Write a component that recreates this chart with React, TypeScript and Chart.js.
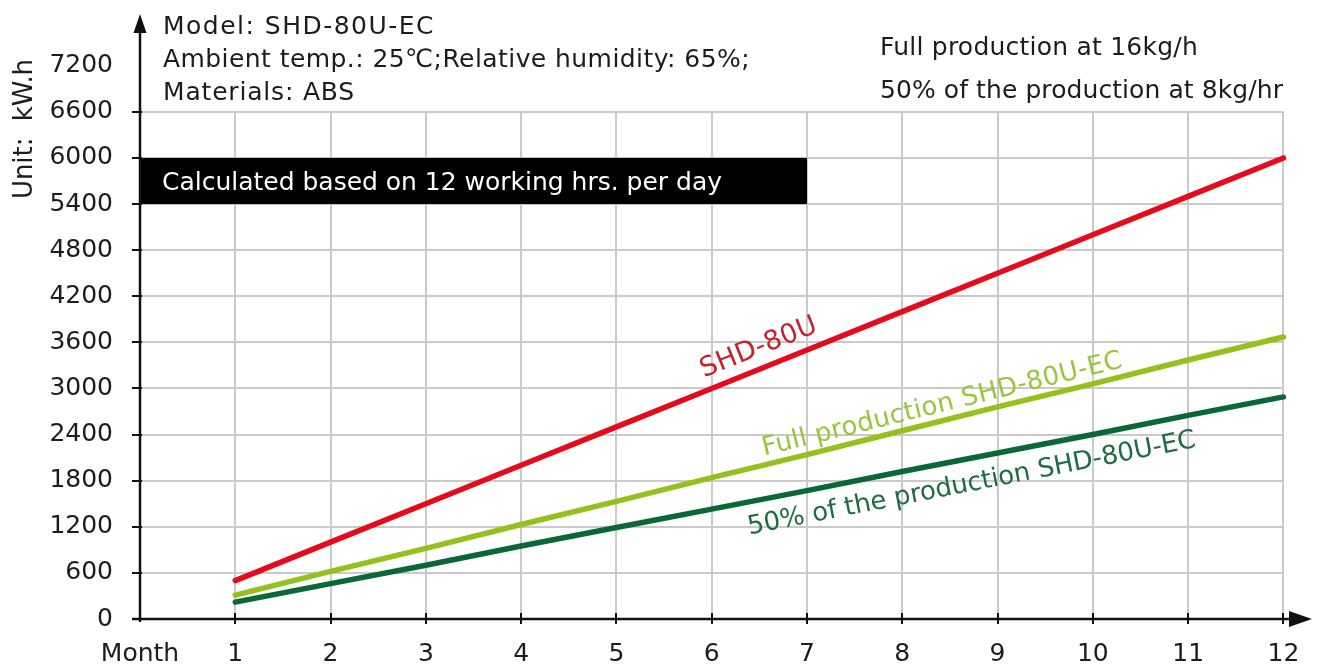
import React, { useEffect, useRef } from "react";
import { Chart, registerables } from "chart.js";

Chart.register(...registerables);

// ---------- data ----------
const months = [1, 2, 3, 4, 5, 6, 7, 8, 9, 10, 11, 12];
const shd80u = [500, 1000, 1500, 2000, 2500, 3000, 3500, 4000, 4500, 5000, 5500, 6000];
const fullEC = [310, 620, 920, 1230, 1530, 1840, 2140, 2450, 2760, 3060, 3370, 3670];
const halfEC = [220, 460, 700, 950, 1190, 1430, 1670, 1920, 2160, 2400, 2650, 2890];

const xTickValues = [0, 1, 2, 3, 4, 5, 6, 7, 8, 9, 10, 11, 12];
const yTickValues = [0, 600, 1200, 1800, 2400, 3000, 3600, 4200, 4800, 5400, 6000, 6600, 7200];
const gridYValues = [600, 1200, 1800, 2400, 3000, 3600, 4200, 4800, 5400, 6000, 6600];
const gridXValues = [1, 2, 3, 4, 5, 6, 7, 8, 9, 10, 11, 12];

const seriesNames = ["SHD-80U", "Full production SHD-80U-EC", "50% of the production SHD-80U-EC"];
const monthLabel = "Month";
const unitLabel = "Unit:  kW.h";
const infoLines = ["Model: SHD-80U-EC", "Ambient temp.: 25℃;Relative humidity: 65%;", "Materials: ABS"];
const productionLines = ["Full production at 16kg/h", "50% of the production at 8kg/hr"];
const noteText = "Calculated based on 12 working hrs. per day";
const noteXRange = [0, 7];
const noteYRange = [5400, 6000];

// ---------- style ----------
const FONT = '"DejaVu Sans", sans-serif';
const lineColors = ["#e30b1c", "#95c11f", "#0a6837"];
const labelColors = ["#c5222e", "#9cc43c", "#1f6b47"];
const TEXT = "#1c1c1c";

function drawFitted(ctx: CanvasRenderingContext2D, text: string, x: number, y: number, width: number, size: number, color: string) {
  ctx.save();
  ctx.font = `${size}px ${FONT}`;
  (ctx as any).letterSpacing = "0px";
  const w = ctx.measureText(text).width;
  const n = Math.max(1, text.length);
  (ctx as any).letterSpacing = `${(width - w) / n}px`;
  ctx.fillStyle = color;
  ctx.textAlign = "left";
  ctx.textBaseline = "alphabetic";
  ctx.fillText(text, x, y);
  (ctx as any).letterSpacing = "0px";
  ctx.restore();
}

const decorPlugin = {
  id: "decor",
  beforeDatasetsDraw(chart: any) {
    const ctx: CanvasRenderingContext2D = chart.ctx;
    const xs = chart.scales.x;
    const ys = chart.scales.y;
    ctx.save();
    ctx.strokeStyle = "#cacaca";
    ctx.lineWidth = 2;
    const top = ys.getPixelForValue(6600);
    const bottom = ys.getPixelForValue(0);
    const left = xs.getPixelForValue(0);
    const right = xs.getPixelForValue(12);
    gridYValues.forEach((v) => {
      const p = Math.round(ys.getPixelForValue(v));
      ctx.beginPath();
      ctx.moveTo(left, p);
      ctx.lineTo(right, p);
      ctx.stroke();
    });
    gridXValues.forEach((v) => {
      const p = Math.round(xs.getPixelForValue(v));
      ctx.beginPath();
      ctx.moveTo(p, top);
      ctx.lineTo(p, bottom);
      ctx.stroke();
    });
    const bx0 = xs.getPixelForValue(noteXRange[0]);
    const bx1 = xs.getPixelForValue(noteXRange[1]);
    const by0 = ys.getPixelForValue(noteYRange[1]);
    const by1 = ys.getPixelForValue(noteYRange[0]);
    ctx.fillStyle = "#000";
    ctx.fillRect(bx0, by0, bx1 - bx0, by1 - by0);
    drawFitted(ctx, noteText, 162, (by0 + by1) / 2 + 9, 560, 25, "#ffffff");
    ctx.restore();
  },
  afterDatasetsDraw(chart: any) {
    const ctx: CanvasRenderingContext2D = chart.ctx;
    const xs = chart.scales.x;
    const ys = chart.scales.y;
    const ax = xs.getPixelForValue(0);
    const ay = ys.getPixelForValue(0);
    ctx.save();
    ctx.strokeStyle = "#111";
    ctx.fillStyle = "#111";
    ctx.lineWidth = 2.5;
    ctx.beginPath();
    ctx.moveTo(ax, ay + 3);
    ctx.lineTo(ax, 30);
    ctx.stroke();
    ctx.beginPath();
    ctx.moveTo(ax, 14);
    ctx.lineTo(ax - 6.5, 33);
    ctx.lineTo(ax + 6.5, 33);
    ctx.closePath();
    ctx.fill();
    ctx.beginPath();
    ctx.moveTo(ax - 8, ay);
    ctx.lineTo(1292, ay);
    ctx.stroke();
    ctx.beginPath();
    ctx.moveTo(1312, ay);
    ctx.lineTo(1289, ay - 8);
    ctx.lineTo(1289, ay + 8);
    ctx.closePath();
    ctx.fill();
    ctx.lineWidth = 2;
    gridYValues.forEach((v) => {
      const p = Math.round(ys.getPixelForValue(v));
      ctx.beginPath();
      ctx.moveTo(ax - 8, p);
      ctx.lineTo(ax + 2, p);
      ctx.stroke();
    });
    gridXValues.forEach((v) => {
      const p = Math.round(xs.getPixelForValue(v));
      ctx.beginPath();
      ctx.moveTo(p, ay - 6);
      ctx.lineTo(p, ay + 5);
      ctx.stroke();
    });

    const labelCfg = [
      { ds: 0, start: 5.97, offset: -13, width: 124, size: 27 },
      { ds: 1, start: 6.575, offset: -9, width: 370, size: 26 },
      { ds: 2, start: 6.33, offset: 32, width: 456, size: 26 },
    ];
    labelCfg.forEach((c) => {
      const pts = chart.getDatasetMeta(c.ds).data;
      const p0 = pts[0];
      const p1 = pts[pts.length - 1];
      const a = Math.atan2(p1.y - p0.y, p1.x - p0.x);
      const i = Math.min(pts.length - 2, Math.max(0, Math.floor(c.start) - 1));
      const t = c.start - (i + 1);
      const px = pts[i].x + (pts[i + 1].x - pts[i].x) * t;
      const py = pts[i].y + (pts[i + 1].y - pts[i].y) * t;
      const nx = -Math.sin(a);
      const ny = Math.cos(a);
      ctx.save();
      ctx.translate(px + nx * c.offset, py + ny * c.offset);
      ctx.rotate(a);
      drawFitted(ctx, seriesNames[c.ds], 0, 0, c.width, c.size, labelColors[c.ds]);
      ctx.restore();
    });

    drawFitted(ctx, infoLines[0], 163, 34, 272, 25, TEXT);
    drawFitted(ctx, infoLines[1], 163, 67, 587, 25, TEXT);
    drawFitted(ctx, infoLines[2], 163, 100, 192, 25, TEXT);
    drawFitted(ctx, productionLines[0], 880, 55, 318, 25, TEXT);
    drawFitted(ctx, productionLines[1], 880, 98, 403, 25, TEXT);

    ctx.save();
    ctx.translate(32, 199);
    ctx.rotate(-Math.PI / 2);
    drawFitted(ctx, unitLabel, 0, 0, 140, 26, TEXT);
    ctx.restore();
    ctx.restore();
  },
};

export default function App() {
  const ref = useRef<HTMLCanvasElement | null>(null);
  useEffect(() => {
    document.body.style.margin = "0";
    document.body.style.overflow = "hidden";
    const canvas = ref.current;
    if (!canvas) return;
    const mk = (vals: number[]) => months.map((m, i) => ({ x: m, y: vals[i] }));
    const chart = new Chart(canvas, {
      type: "line",
      data: {
        datasets: [shd80u, fullEC, halfEC].map((vals, i) => ({
          label: seriesNames[i],
          data: mk(vals),
          borderColor: lineColors[i],
          backgroundColor: lineColors[i],
          borderWidth: 5.5,
          borderCapStyle: "round",
          pointRadius: 0,
          tension: 0,
          fill: false,
        })),
      },
      options: {
        responsive: false,
        animation: false,
        layout: { padding: { left: 0, right: 10, top: 15, bottom: 0 } },
        plugins: { legend: { display: false }, tooltip: { enabled: false } },
        scales: {
          x: {
            type: "linear",
            min: 0,
            max: 12.3,
            grid: { display: false, drawTicks: false },
            border: { display: false },
            afterBuildTicks: (s: any) => {
              s.ticks = xTickValues.map((v) => ({ value: v }));
            },
            afterFit: (s: any) => {
              s.height = 47;
              s.paddingLeft = 0;
              s.paddingRight = 0;
            },
            ticks: {
              padding: 20,
              color: TEXT,
              font: { family: FONT, size: 25 },
              maxRotation: 0,
              autoSkip: false,
              callback: (v: any) => (v === 0 ? monthLabel : String(v)),
            },
          },
          y: {
            type: "linear",
            min: 0,
            max: 7860,
            grace: 0,
            grid: { display: false, drawTicks: false },
            border: { display: false },
            afterBuildTicks: (s: any) => {
              s.ticks = yTickValues.map((v) => ({ value: v }));
            },
            afterFit: (s: any) => {
              s.width = 140;
              s.paddingTop = 0;
              s.paddingBottom = 0;
            },
            ticks: {
              padding: 27,
              color: TEXT,
              font: { family: FONT, size: 25 },
              autoSkip: false,
              callback: (v: any) => String(v),
            },
          },
        },
      },
      plugins: [decorPlugin],
    } as any);
    return () => chart.destroy();
  }, []);
  return (
    <div style={{ width: 1322, height: 666, background: "#fff" }}>
      <canvas ref={ref} width={1322} height={666} style={{ display: "block" }} />
    </div>
  );
}
